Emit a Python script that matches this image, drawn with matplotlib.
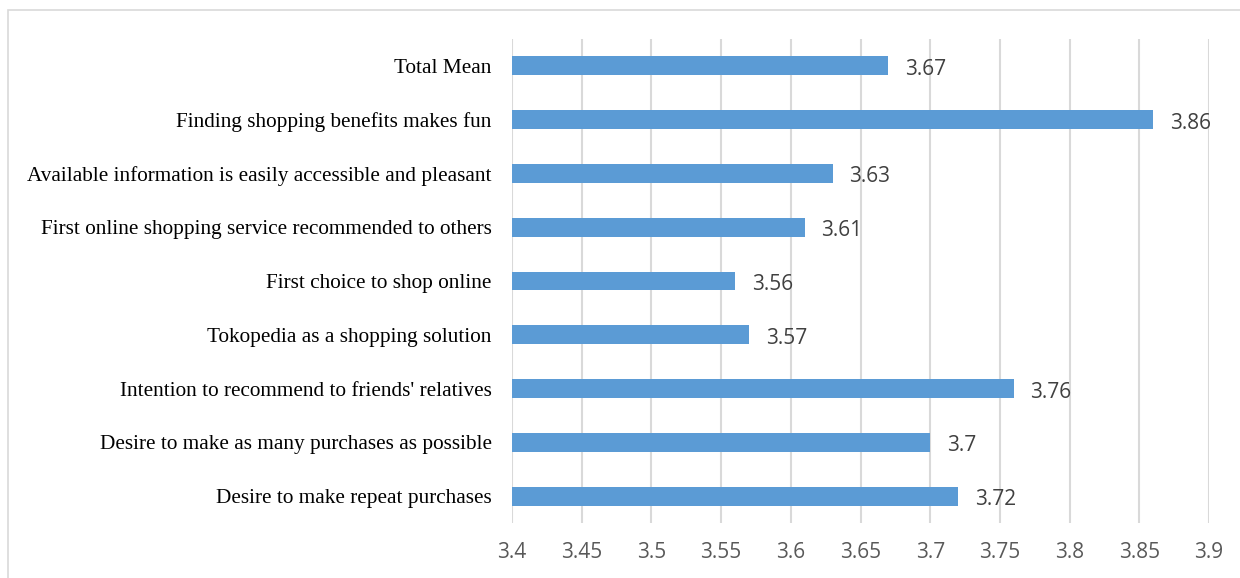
import matplotlib.pyplot as plt
from matplotlib.patches import Rectangle

# =============================================================================
# Data
# =============================================================================

items = [
    "Total Mean",
    "Finding shopping benefits makes fun",
    "Available information is easily accessible and pleasant",
    "First online shopping service recommended to others",
    "First choice to shop online",
    "Tokopedia as a shopping solution",
    "Intention to recommend to friends' relatives",
    "Desire to make as many purchases as possible",
    "Desire to make repeat purchases",
]
means = [3.67, 3.86, 3.63, 3.61, 3.56, 3.57, 3.76, 3.70, 3.72]
value_labels = ["3.67", "3.86", "3.63", "3.61", "3.56", "3.57", "3.76", "3.7", "3.72"]
xticks = [3.4, 3.45, 3.5, 3.55, 3.6, 3.65, 3.7, 3.75, 3.8, 3.85, 3.9]
xtick_labels = ["3.4", "3.45", "3.5", "3.55", "3.6", "3.65", "3.7", "3.75", "3.8", "3.85", "3.9"]

# =============================================================================
# Plot
# =============================================================================

fig = plt.figure(figsize=(12.4, 5.78), dpi=100)
ax = fig.add_axes([512/1240, 1 - 523/578, (1209 - 512)/1240, (523 - 39)/578])

# chart border (only top and left visible in the crop)
fig.patches.append(Rectangle((8/1240, -0.1), 1.2, 1 - 10/578 + 0.1,
                             transform=fig.transFigure, fill=False,
                             edgecolor="#D9D9D9", linewidth=1.2))

ypos = list(range(len(items)))
ax.barh(ypos, [m - 3.4 for m in means], left=3.4, height=0.35, color="#5B9BD5", zorder=3)

for y, m, lab in zip(ypos, means, value_labels):
    ax.annotate(lab, (m, y), xytext=(12, -2.5), textcoords="offset points",
                va="center", ha="left", fontsize=15, color="#404040", family="Open Sans")

ax.set_xlim(3.4, 3.9)
ax.set_ylim(len(items) - 0.5, -0.5)
ax.set_xticks(xticks)
ax.set_xticklabels(xtick_labels, fontsize=15, color="#595959", family="Open Sans")
ax.set_yticks(ypos)
ax.set_yticklabels(items, fontsize=15.3, color="black", family="Liberation Serif")
ax.tick_params(axis="both", length=0)
ax.tick_params(axis="y", pad=14.5)
ax.tick_params(axis="x", pad=13.5)

ax.grid(axis="x", color="#D9D9D9", linewidth=1.5, zorder=0)
for s in ax.spines.values():
    s.set_visible(False)

fig.savefig("out.png", dpi=100)
